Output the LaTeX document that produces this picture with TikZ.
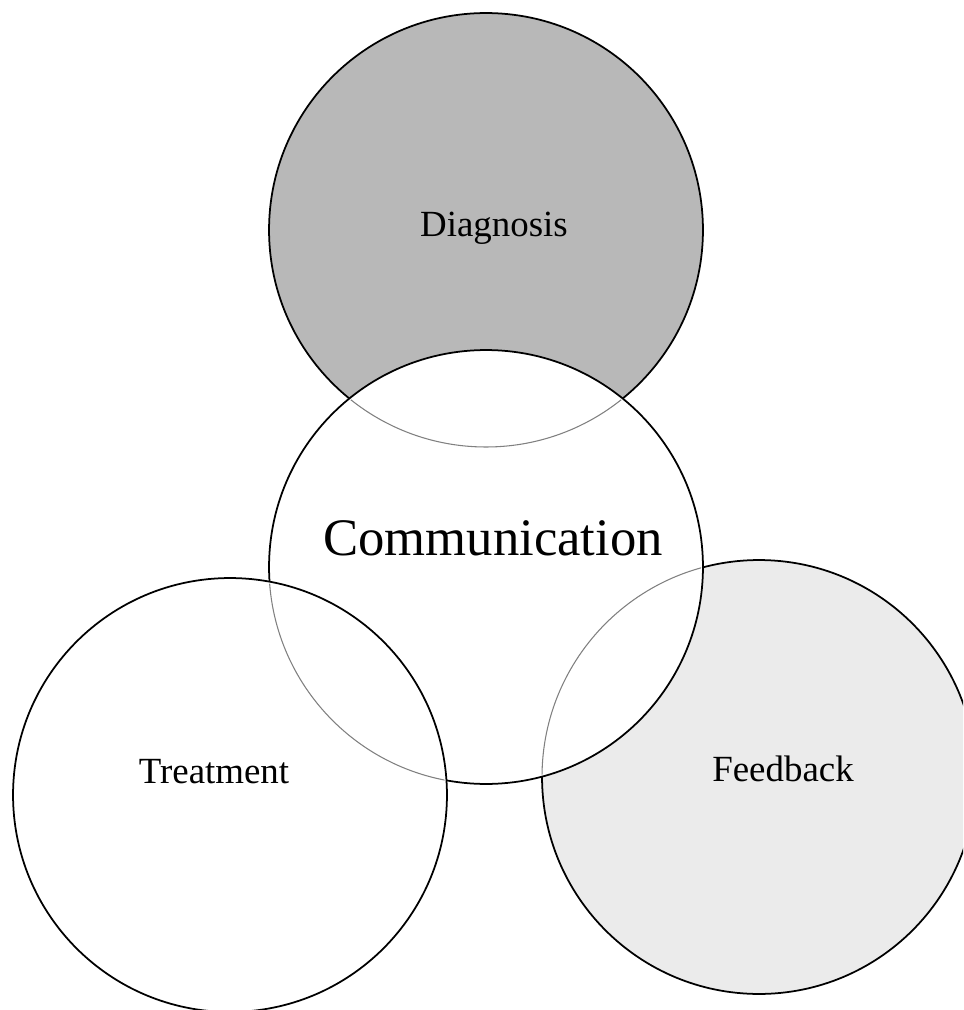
\documentclass[tikz,border=0pt]{standalone}
\usepackage{fontspec}
\setmainfont{Liberation Serif}
\usepackage{tikz}

\definecolor{diaggray}{gray}{0.72}
\definecolor{feedgray}{gray}{0.92}

\tikzset{
  venn/.style={circle, draw, line width=1pt, minimum size=8.68cm, inner sep=0pt},
  hidden/.style={draw=gray, line width=0.6pt},
  lbl/.style={font=\fontsize{21}{25}\selectfont},
}

\begin{document}
\begin{tikzpicture}[x=0.02cm, y=-0.02cm]
      \useasboundingbox (0,0) rectangle (963,1010);
      \clip (0,0) rectangle (963,1010);

      % the four circles, back to front
      \node[venn, fill=diaggray] (diag) at (486,230) {};
      \node[venn, fill=feedgray] (feed) at (759,777) {};
      \node[venn, fill=white] (comm) at (486,567) {};
      \node[venn, fill=white] (treat) at (230,795) {};

      % outlines showing through the white circles
      \begin{scope}
        \clip (comm.center) circle (215);
        \draw[hidden] (diag.center) circle (217);
        \draw[hidden] (feed.center) circle (217);
      \end{scope}
      \begin{scope}
        \clip (treat.center) circle (215);
        \draw[hidden] (comm.center) circle (217);
      \end{scope}

      \node[lbl] (diaglbl) at (494,228) {Diagnosis};
      \node[font=\fontsize{30}{36}\selectfont] (commlbl) at (493,538) {Communication};
      \node[lbl] (treatlbl) at (214,772) {Treatment};
      \node[lbl] (feedlbl) at (783,769) {Feedback};
\end{tikzpicture}
\end{document}
